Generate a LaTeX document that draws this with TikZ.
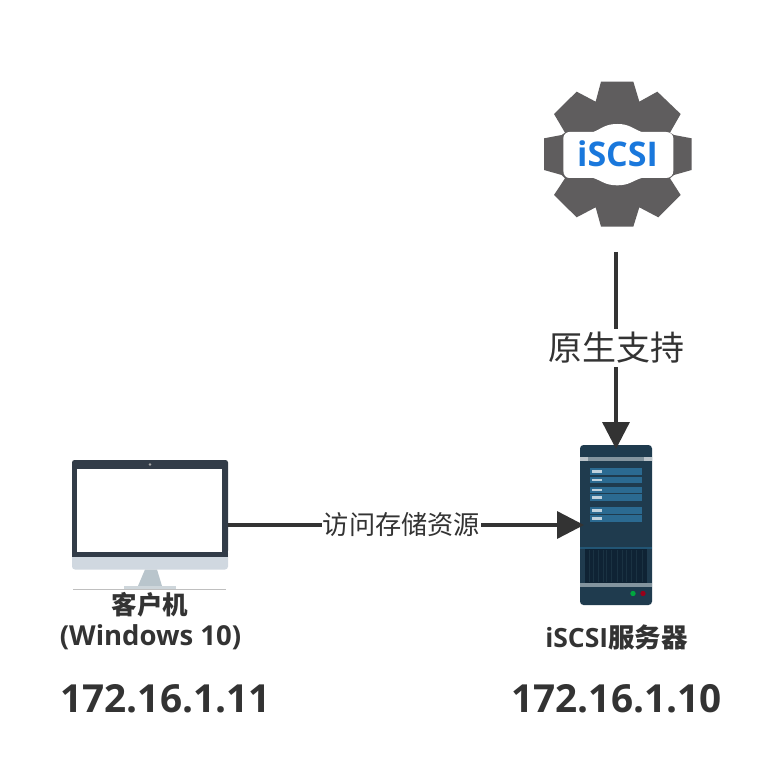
\documentclass[tikz,border=0pt]{standalone}
\usepackage{fontspec}
\setmainfont{Open Sans}
\newfontfamily\cjk{Noto Sans CJK SC}
\usetikzlibrary{arrows.meta}
\definecolor{geargray}{HTML}{5F5D5E}
\definecolor{linecol}{HTML}{333333}
\definecolor{txtcol}{HTML}{333333}
\definecolor{srvbody}{HTML}{1F3B4E}
\definecolor{srvrow}{HTML}{2B6A91}
\definecolor{srvbar}{HTML}{83949E}
\definecolor{srvgrill}{HTML}{0F2334}
\definecolor{monframe}{HTML}{323C48}
\definecolor{monsilver}{HTML}{D0D8E0}
\definecolor{monstand}{HTML}{B9C5CC}
\definecolor{iscsiblue}{HTML}{1A78DC}
\tikzset{
  conn/.style={draw=linecol,line width=3.4pt,-{Triangle[length=27pt,width=27pt]},shorten >=-4pt},
  lbl/.style={text=txtcol,inner sep=0pt,align=center},
  srvrowbox/.style={fill=srvrow},
}
\newcommand{\fs}[1]{\fontsize{#1pt}{#1pt}\selectfont}
\begin{document}
\begin{tikzpicture}[x=1pt,y=-1pt]
\useasboundingbox (0,0) rectangle (782,778);
\fill[white] (0,0) rectangle (782,778);
% gear
\begin{scope}[shift={(530,70)},x=0.3333pt,y=-0.3333pt]
\fill[geargray] (213,35)--(310,35)--(328,95)--(382,65)--(452,132)--(420,188)--(432,195)--(485,205)--(485,300)--(432,315)--(420,325)--(452,375)--(385,442)--(328,412)--(310,470)--(213,470)--(197,412)--(140,442)--(72,375)--(105,325)--(95,315)--(42,300)--(42,205)--(95,195)--(105,188)--(72,132)--(140,65)--(197,95)--cycle;
\fill[white] (118,186)--(190,186) .. controls (215,176) and (225,162) .. (262,162) .. controls (298,162) and (308,176) .. (335,186)--(408,186) .. controls (422,186) and (430,195) .. (430,205)--(430,302) .. controls (430,315) and (422,324) .. (408,324)--(335,324) .. controls (308,332) and (298,346) .. (262,346) .. controls (225,346) and (215,332) .. (190,324)--(118,324) .. controls (108,324) and (100,315) .. (100,302)--(100,205) .. controls (100,195) and (108,186) .. (118,186)--cycle;
\end{scope}
\node[inner sep=0pt,outer sep=0pt,minimum width=148pt,minimum height=146pt] (gear) at (616,154) {};
\node[inner sep=0pt,text=iscsiblue,font=\fs{34}\bfseries] (gearlabel) at (617.5,154) {iSCSI};
% server
\node[inner sep=0pt,outer sep=0pt,minimum width=72pt,minimum height=160pt] (server) at (616,525) {};
\fill[srvbody,rounded corners=3.5pt] (580,445) rectangle (652,605);
\fill[srvbar] (580,457) rectangle (652,461);
\fill[srvbar!55!white] (580,457) rectangle (588,461);
\fill[srvbar!55!white] (644,457) rectangle (652,461);
\foreach \a/\b in {468/475,477/483,487/493,494/501,507/514,515/522}{
  \fill[srvrowbox] (590,\a) rectangle (642,\b);
  \fill[white,opacity=.7] (592,{\a+2}) rectangle (602,{\b-2});
}
\fill[srvrow!80!black] (580,547) rectangle (652,549);
\fill[srvgrill] (585,549) rectangle (647,583);
\foreach \x in {589,593,598,603,606,611,617,622,626,631,636,642}{
  \fill[srvbody!85!black] (\x,550) rectangle ({\x+1.2},582);
}
\fill[srvbar] (580,583) rectangle (652,587);
\fill[green!45!teal!90!black] (633,593.5) circle (2.7);
\fill[red!55!black!90!magenta] (643,593.5) circle (2.7);
% monitor
\node[inner sep=0pt,outer sep=0pt,minimum width=156pt,minimum height=130pt] (client) at (150,525) {};
\fill[monsilver,rounded corners=3pt] (72,550) rectangle (228,569.5);
\fill[monframe,rounded corners=2.5pt] (72,460) rectangle (228,553);
\fill[monframe] (72,550) rectangle (228,557);
\fill[white] (77,469) rectangle (222,552);
\fill[gray!70] (150,464.5) circle (1.3);
\fill[monstand] (145,569.5)--(157,569.5)--(162,586)--(138,586)--cycle;
\fill[monstand!70!white] (124,586) rectangle (176,589);
\fill[gray!50] (73,589) rectangle (226,589.6);
% connectors
\draw[conn,shorten <=25pt] (gear.south -| server.north) -- node[lbl,fill=white,inner ysep=3pt,font=\fs{34}\cjk,pos=.555] (lblnative) {原生支持} (server.north);
\draw[conn] (client.east) -- node[lbl,fill=white,inner ysep=2pt,inner xsep=1pt,font=\fs{26.2}\cjk,pos=.493] (lblaccess) {访问存储资源} (server.west);
% labels
\node[lbl,font=\fs{25.5}\cjk\bfseries] (clientname) at (150,605) {客户机};
\node[lbl,font=\fs{27.5}\bfseries] (clientos) at (150.5,637) {(Windows 10)};
\node[lbl,font=\fs{26.5}\bfseries] (servername) at (616.5,637) {iSCSI{\cjk\bfseries 服务器}};
\node[lbl,font=\fs{38.7}\bfseries] (clientip) at (165.5,699) {172.16.1.11};
\node[lbl,font=\fs{38.7}\bfseries] (serverip) at (616.5,699) {172.16.1.10};
\end{tikzpicture}
\end{document}
